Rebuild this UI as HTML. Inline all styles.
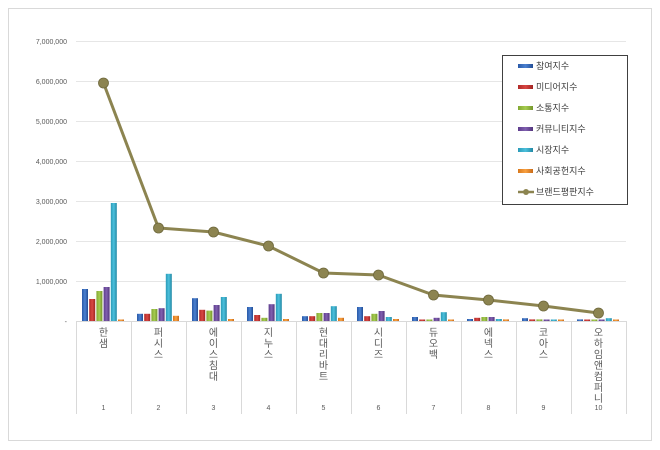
<!DOCTYPE html>
<html><head><meta charset="utf-8"><style>
html,body{margin:0;padding:0;background:#fff;}
svg{display:block;font-family:"Liberation Sans","Noto Sans CJK KR",sans-serif;}
</style></head><body>
<svg width="660" height="450" viewBox="0 0 660 450" xmlns="http://www.w3.org/2000/svg">
<defs>
<linearGradient id="g0" x1="0" x2="1"><stop offset="0" stop-color="#2a5aa8"/><stop offset="0.5" stop-color="#4a80d0"/><stop offset="1" stop-color="#234d94"/></linearGradient>
<linearGradient id="g1" x1="0" x2="1"><stop offset="0" stop-color="#b02a28"/><stop offset="0.5" stop-color="#d84642"/><stop offset="1" stop-color="#a02422"/></linearGradient>
<linearGradient id="g2" x1="0" x2="1"><stop offset="0" stop-color="#82a832"/><stop offset="0.5" stop-color="#a6cc50"/><stop offset="1" stop-color="#74962c"/></linearGradient>
<linearGradient id="g3" x1="0" x2="1"><stop offset="0" stop-color="#5e3c8c"/><stop offset="0.5" stop-color="#8060b0"/><stop offset="1" stop-color="#52347c"/></linearGradient>
<linearGradient id="g4" x1="0" x2="1"><stop offset="0" stop-color="#2a9ab8"/><stop offset="0.5" stop-color="#4cc0dc"/><stop offset="1" stop-color="#2288a4"/></linearGradient>
<linearGradient id="g5" x1="0" x2="1"><stop offset="0" stop-color="#d8781c"/><stop offset="0.5" stop-color="#f8a040"/><stop offset="1" stop-color="#c86a18"/></linearGradient>
</defs>
<rect x="8.5" y="8.5" width="643" height="432" fill="#fff" stroke="#d9d9d9"/>
<g stroke="#e6e6e6" stroke-width="1">
<line x1="76" x2="626" y1="41.5" y2="41.5"/><line x1="76" x2="626" y1="81.5" y2="81.5"/>
<line x1="76" x2="626" y1="121.5" y2="121.5"/><line x1="76" x2="626" y1="161.5" y2="161.5"/>
<line x1="76" x2="626" y1="201.5" y2="201.5"/><line x1="76" x2="626" y1="241.5" y2="241.5"/>
<line x1="76" x2="626" y1="281.5" y2="281.5"/>
</g>
<g stroke="#d9d9d9">
<line x1="76" x2="626" y1="321.5" y2="321.5"/>
<line x1="76.5" x2="76.5" y1="321" y2="414"/><line x1="131.5" x2="131.5" y1="321" y2="414"/>
<line x1="186.5" x2="186.5" y1="321" y2="414"/><line x1="241.5" x2="241.5" y1="321" y2="414"/>
<line x1="296.5" x2="296.5" y1="321" y2="414"/><line x1="351.5" x2="351.5" y1="321" y2="414"/>
<line x1="406.5" x2="406.5" y1="321" y2="414"/><line x1="461.5" x2="461.5" y1="321" y2="414"/>
<line x1="516.5" x2="516.5" y1="321" y2="414"/><line x1="571.5" x2="571.5" y1="321" y2="414"/>
<line x1="626.5" x2="626.5" y1="321" y2="414"/>
</g>
<g font-size="7" fill="#595959" text-anchor="end">
<text x="67" y="44">7,000,000</text><text x="67" y="84">6,000,000</text>
<text x="67" y="124">5,000,000</text><text x="67" y="164">4,000,000</text>
<text x="67" y="204">3,000,000</text><text x="67" y="244">2,000,000</text>
<text x="67" y="284">1,000,000</text><text x="67" y="324">-</text>
</g>
<g transform="translate(82,321) scale(1,-1)"><rect x="0" width="6" height="32" fill="url(#g0)"/><rect x="7.2" width="6" height="22" fill="url(#g1)"/><rect x="14.4" width="6" height="30" fill="url(#g2)"/><rect x="21.6" width="6" height="34" fill="url(#g3)"/><rect x="28.8" width="6" height="118" fill="url(#g4)"/><rect x="36" width="6" height="1.5" fill="url(#g5)"/></g>
<g transform="translate(137,321) scale(1,-1)"><rect x="0" width="6" height="7.2" fill="url(#g0)"/><rect x="7.2" width="6" height="7.2" fill="url(#g1)"/><rect x="14.4" width="6" height="12" fill="url(#g2)"/><rect x="21.6" width="6" height="12.8" fill="url(#g3)"/><rect x="28.8" width="6" height="47.2" fill="url(#g4)"/><rect x="36" width="6" height="5.2" fill="url(#g5)"/></g>
<g transform="translate(192,321) scale(1,-1)"><rect x="0" width="6" height="22.8" fill="url(#g0)"/><rect x="7.2" width="6" height="11.2" fill="url(#g1)"/><rect x="14.4" width="6" height="10.4" fill="url(#g2)"/><rect x="21.6" width="6" height="16" fill="url(#g3)"/><rect x="28.8" width="6" height="24" fill="url(#g4)"/><rect x="36" width="6" height="2" fill="url(#g5)"/></g>
<g transform="translate(247,321) scale(1,-1)"><rect x="0" width="6" height="14" fill="url(#g0)"/><rect x="7.2" width="6" height="6" fill="url(#g1)"/><rect x="14.4" width="6" height="3.2" fill="url(#g2)"/><rect x="21.6" width="6" height="16.8" fill="url(#g3)"/><rect x="28.8" width="6" height="27.2" fill="url(#g4)"/><rect x="36" width="6" height="2" fill="url(#g5)"/></g>
<g transform="translate(302,321) scale(1,-1)"><rect x="0" width="6" height="4.8" fill="url(#g0)"/><rect x="7.2" width="6" height="4.8" fill="url(#g1)"/><rect x="14.4" width="6" height="8" fill="url(#g2)"/><rect x="21.6" width="6" height="8" fill="url(#g3)"/><rect x="28.8" width="6" height="14.8" fill="url(#g4)"/><rect x="36" width="6" height="3.2" fill="url(#g5)"/></g>
<g transform="translate(357,321) scale(1,-1)"><rect x="0" width="6" height="14" fill="url(#g0)"/><rect x="7.2" width="6" height="4.8" fill="url(#g1)"/><rect x="14.4" width="6" height="7.2" fill="url(#g2)"/><rect x="21.6" width="6" height="10" fill="url(#g3)"/><rect x="28.8" width="6" height="4" fill="url(#g4)"/><rect x="36" width="6" height="2" fill="url(#g5)"/></g>
<g transform="translate(412,321) scale(1,-1)"><rect x="0" width="6" height="4" fill="url(#g0)"/><rect x="7.2" width="6" height="1.5" fill="url(#g1)"/><rect x="14.4" width="6" height="1.5" fill="url(#g2)"/><rect x="21.6" width="6" height="3.2" fill="url(#g3)"/><rect x="28.8" width="6" height="8.8" fill="url(#g4)"/><rect x="36" width="6" height="1.5" fill="url(#g5)"/></g>
<g transform="translate(467,321) scale(1,-1)"><rect x="0" width="6" height="2" fill="url(#g0)"/><rect x="7.2" width="6" height="3.2" fill="url(#g1)"/><rect x="14.4" width="6" height="4" fill="url(#g2)"/><rect x="21.6" width="6" height="4" fill="url(#g3)"/><rect x="28.8" width="6" height="2" fill="url(#g4)"/><rect x="36" width="6" height="1.6" fill="url(#g5)"/></g>
<g transform="translate(522,321) scale(1,-1)"><rect x="0" width="6" height="2.8" fill="url(#g0)"/><rect x="7.2" width="6" height="1.6" fill="url(#g1)"/><rect x="14.4" width="6" height="1.6" fill="url(#g2)"/><rect x="21.6" width="6" height="1.5" fill="url(#g3)"/><rect x="28.8" width="6" height="1.5" fill="url(#g4)"/><rect x="36" width="6" height="1.5" fill="url(#g5)"/></g>
<g transform="translate(577,321) scale(1,-1)"><rect x="0" width="6" height="1.6" fill="url(#g0)"/><rect x="7.2" width="6" height="1.5" fill="url(#g1)"/><rect x="14.4" width="6" height="1.5" fill="url(#g2)"/><rect x="21.6" width="6" height="1.5" fill="url(#g3)"/><rect x="28.8" width="6" height="2.8" fill="url(#g4)"/><rect x="36" width="6" height="1.5" fill="url(#g5)"/></g>
<g font-size="10" fill="#595959" text-anchor="middle">
<text x="103.5" y="336">한</text><text x="103.5" y="347">샘</text>
<text x="158.5" y="336">퍼</text><text x="158.5" y="347">시</text><text x="158.5" y="358">스</text>
<text x="213.5" y="336">에</text><text x="213.5" y="347">이</text><text x="213.5" y="358">스</text><text x="213.5" y="369">침</text><text x="213.5" y="380">대</text>
<text x="268.5" y="336">지</text><text x="268.5" y="347">누</text><text x="268.5" y="358">스</text>
<text x="323.5" y="336">현</text><text x="323.5" y="347">대</text><text x="323.5" y="358">리</text><text x="323.5" y="369">바</text><text x="323.5" y="380">트</text>
<text x="378.5" y="336">시</text><text x="378.5" y="347">디</text><text x="378.5" y="358">즈</text>
<text x="433.5" y="336">듀</text><text x="433.5" y="347">오</text><text x="433.5" y="358">백</text>
<text x="488.5" y="336">에</text><text x="488.5" y="347">넥</text><text x="488.5" y="358">스</text>
<text x="543.5" y="336">코</text><text x="543.5" y="347">아</text><text x="543.5" y="358">스</text>
<text x="598.5" y="336">오</text><text x="598.5" y="347">하</text><text x="598.5" y="358">임</text><text x="598.5" y="369">앤</text><text x="598.5" y="380">컴</text><text x="598.5" y="391">퍼</text><text x="598.5" y="402">니</text>
</g>
<g font-size="7" fill="#595959" text-anchor="middle">
<text x="103.5" y="410">1</text><text x="158.5" y="410">2</text><text x="213.5" y="410">3</text><text x="268.5" y="410">4</text><text x="323.5" y="410">5</text>
<text x="378.5" y="410">6</text><text x="433.5" y="410">7</text><text x="488.5" y="410">8</text><text x="543.5" y="410">9</text><text x="598.5" y="410">10</text>
</g>
<polyline fill="none" stroke="#8c8450" stroke-width="3" points="103.5,83 158.5,228 213.5,232 268.5,246 323.5,273 378.5,275 433.5,295 488.5,300 543.5,306 598.5,313"/>
<g fill="#8c8450" stroke="#6e683c" stroke-width="0.8">
<circle cx="103.5" cy="83" r="5"/><circle cx="158.5" cy="228" r="5"/><circle cx="213.5" cy="232" r="5"/><circle cx="268.5" cy="246" r="5"/><circle cx="323.5" cy="273" r="5"/>
<circle cx="378.5" cy="275" r="5"/><circle cx="433.5" cy="295" r="5"/><circle cx="488.5" cy="300" r="5"/><circle cx="543.5" cy="306" r="5"/><circle cx="598.5" cy="313" r="5"/>
</g>
<rect x="502.5" y="55.5" width="125" height="149" fill="#fff" stroke="#404040"/>
<g font-size="9" fill="#404040">
<rect x="518" y="64" width="15" height="4" fill="url(#g0)"/><text x="536" y="69">참여지수</text>
<rect x="518" y="85" width="15" height="4" fill="url(#g1)"/><text x="536" y="90">미디어지수</text>
<rect x="518" y="106" width="15" height="4" fill="url(#g2)"/><text x="536" y="111">소통지수</text>
<rect x="518" y="127" width="15" height="4" fill="url(#g3)"/><text x="536" y="132">커뮤니티지수</text>
<rect x="518" y="148" width="15" height="4" fill="url(#g4)"/><text x="536" y="153">시장지수</text>
<rect x="518" y="169" width="15" height="4" fill="url(#g5)"/><text x="536" y="174">사회공헌지수</text>
<line x1="518" x2="534" y1="192" y2="192" stroke="#8c8450" stroke-width="2.5"/><circle cx="526" cy="192" r="3" fill="#8c8450"/><text x="536" y="195">브랜드평판지수</text>
</g>
</svg>
</body></html>
